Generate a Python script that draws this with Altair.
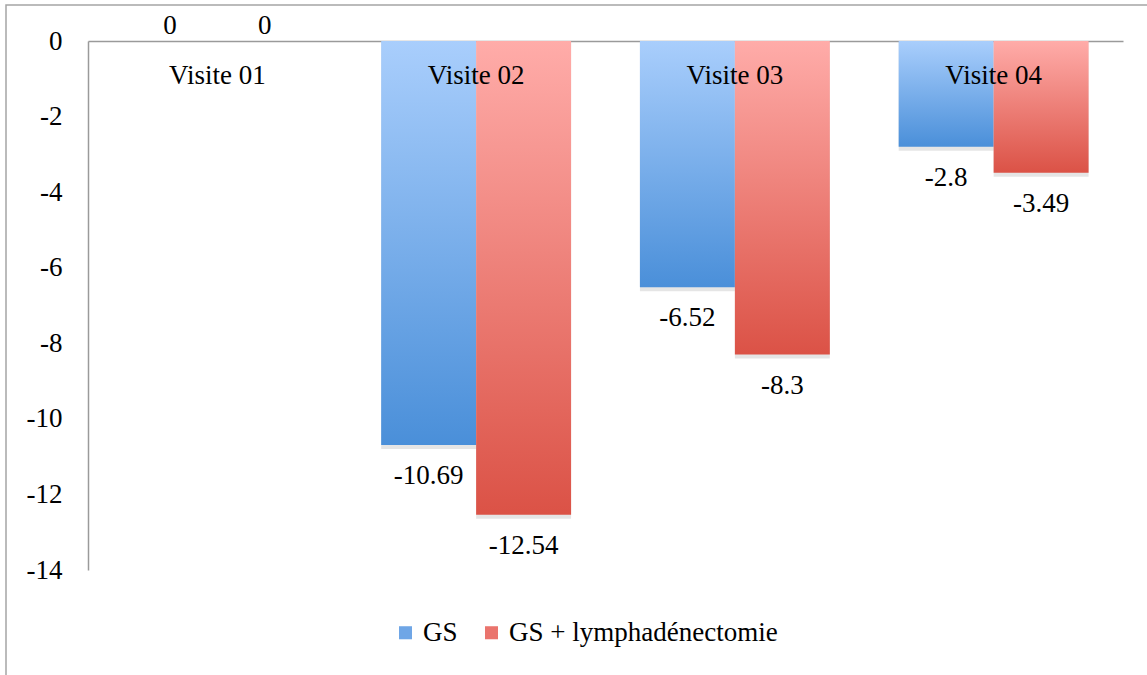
import altair as alt
import pandas as pd

visites = ["Visite 01", "Visite 02", "Visite 03", "Visite 04"]
series = ["GS", "GS + lymphadénectomie"]
gs_values = [0, -10.69, -6.52, -2.8]
gsl_values = [0, -12.54, -8.3, -3.49]
y_ticks = [0, -2, -4, -6, -8, -10, -12, -14]

rows = []
for v, a, b in zip(visites, gs_values, gsl_values):
    rows.append({"visite": v, "serie": series[0], "value": a})
    rows.append({"visite": v, "serie": series[1], "value": b})
df = pd.DataFrame(rows)

FONT = "Liberation Serif"
FS = 27

blue_grad = alt.LinearGradient(
    gradient="linear", x1=0, y1=0, x2=0, y2=1,
    stops=[alt.GradientStop(color="#A9CEFC", offset=0),
           alt.GradientStop(color="#4A8FD9", offset=1)])
red_grad = alt.LinearGradient(
    gradient="linear", x1=0, y1=0, x2=0, y2=1,
    stops=[alt.GradientStop(color="#FFACA9", offset=0),
           alt.GradientStop(color="#DB5246", offset=1)])

xenc = alt.X("visite:N", sort=visites,
             scale=alt.Scale(paddingInner=0.266, paddingOuter=0.133),
             axis=alt.Axis(orient="top", labels=False, ticks=False, title=None,
                           domainColor="#9A9A9A", domainWidth=1.5))
xoff = alt.XOffset("serie:N", sort=series,
                   scale=alt.Scale(domain=series, paddingInner=0, paddingOuter=0))
yenc = alt.Y("value:Q",
             scale=alt.Scale(domain=[-14, 0], nice=False, zero=True),
             axis=alt.Axis(values=y_ticks, grid=False, ticks=False, title=None,
                           domainColor="#9A9A9A", domainWidth=1.5,
                           labelFont=FONT, labelFontSize=FS, labelColor="#000000",
                           labelPadding=26, labelExpr="toString(datum.value)"))

base = alt.Chart(df).transform_calculate(label="toString(datum.value)")

shadow = base.mark_bar(color="#000000", opacity=0.10, xOffset=3, yOffset=4).encode(
    x=xenc, xOffset=xoff, y=yenc, y2=alt.Y2(datum=0)
).transform_filter("datum.value < 0")

bars_gs = base.mark_bar(color=blue_grad).encode(
    x=xenc, xOffset=xoff, y=yenc, y2=alt.Y2(datum=0)
).transform_filter(alt.datum.serie == series[0])

bars_gsl = base.mark_bar(color=red_grad).encode(
    x=xenc, xOffset=xoff, y=yenc, y2=alt.Y2(datum=0)
).transform_filter(alt.datum.serie == series[1])

legend_layer = base.mark_square(opacity=0, size=150).encode(
    x=xenc, xOffset=xoff, y=yenc,
    color=alt.Color("serie:N", sort=series,
                    scale=alt.Scale(domain=series, range=["#6FA6E6", "#EA746D"]),
                    legend=alt.Legend(title=None, orient="none", direction="horizontal",
                                      legendX=304, legendY=578,
                                      symbolType="square", symbolSize=170,
                                      symbolOpacity=1, symbolStrokeWidth=0,
                                      labelFont=FONT, labelFontSize=FS,
                                      labelColor="#000000", columnPadding=20,
                                      labelOffset=4, labelLimit=0))
)

neg_labels = base.mark_text(font=FONT, fontSize=FS, color="#000000",
                            baseline="middle", dy=31).encode(
    x=xenc, xOffset=xoff, y=yenc, text=alt.Text("label:N")
).transform_filter("datum.value < 0")

zero_labels = base.mark_text(font=FONT, fontSize=FS, color="#000000",
                             baseline="middle", dy=-15).encode(
    x=xenc, xOffset=xoff, y=yenc, text=alt.Text("label:N")
).transform_filter("datum.value == 0")

cat_labels = base.mark_text(font=FONT, fontSize=FS, color="#000000",
                            baseline="middle", dy=35).encode(
    x=xenc, y=alt.Y(datum=0), text="visite:N"
).transform_filter(alt.datum.serie == series[0])

frame = alt.Chart(pd.DataFrame({"a": [0]})).mark_rect(
    fill=None, stroke="#A5A5A5", strokeWidth=1.5
).encode(x=alt.value(-82), x2=alt.value(1080), y=alt.value(-36), y2=alt.value(660))

chart = alt.layer(
    frame, shadow, bars_gs, bars_gsl, legend_layer, neg_labels, zero_labels, cat_labels
).properties(
    width=1035, height=529,
    autosize=alt.AutoSizeParams(type="none"),
    padding={"left": 88, "top": 41, "right": 24, "bottom": 105},
    background="#FFFFFF"
).configure(font=FONT).configure_view(stroke=None)

chart.save("out.html", embed_options={"renderer": "svg", "actions": False})
